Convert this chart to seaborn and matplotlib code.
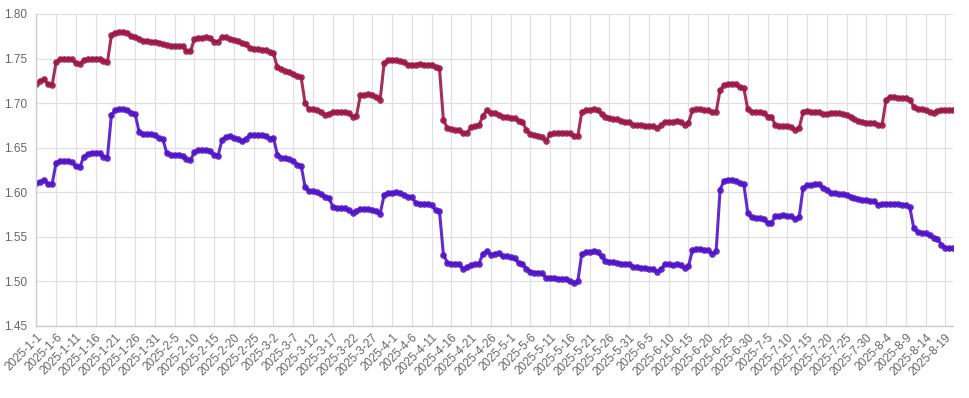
import matplotlib
matplotlib.use('Agg')
import matplotlib.pyplot as plt
import seaborn as sns
import pandas as pd

# daily values, 2025-1-1 .. 2025-8-21
series_a = [
    1.722, 1.725, 1.727, 1.721, 1.720, 1.746, 1.749, 1.750, 1.750, 1.749,
    1.745, 1.744, 1.748, 1.749, 1.750, 1.750, 1.750, 1.747, 1.746, 1.776,
    1.779, 1.780, 1.780, 1.779, 1.775, 1.774, 1.772, 1.770, 1.770, 1.769,
    1.769, 1.768, 1.766, 1.765, 1.764, 1.764, 1.764, 1.764, 1.758, 1.758,
    1.772, 1.773, 1.773, 1.774, 1.773, 1.769, 1.769, 1.774, 1.774, 1.772,
    1.771, 1.770, 1.767, 1.766, 1.762, 1.761, 1.761, 1.760, 1.760, 1.757,
    1.756, 1.740, 1.738, 1.736, 1.735, 1.733, 1.730, 1.729, 1.700, 1.693,
    1.693, 1.692, 1.690, 1.687, 1.688, 1.690, 1.690, 1.690, 1.690, 1.689,
    1.685, 1.686, 1.709, 1.709, 1.710, 1.709, 1.707, 1.704, 1.745, 1.748,
    1.748, 1.748, 1.747, 1.746, 1.743, 1.743, 1.743, 1.744, 1.743, 1.743,
    1.743, 1.740, 1.739, 1.681, 1.672, 1.671, 1.670, 1.670, 1.666, 1.667,
    1.673, 1.674, 1.675, 1.686, 1.692, 1.689, 1.689, 1.687, 1.685, 1.684,
    1.683, 1.683, 1.680, 1.679, 1.670, 1.665, 1.664, 1.663, 1.662, 1.658,
    1.665, 1.666, 1.666, 1.667, 1.666, 1.666, 1.663, 1.663, 1.690, 1.692,
    1.692, 1.693, 1.692, 1.688, 1.685, 1.683, 1.682, 1.682, 1.680, 1.679,
    1.679, 1.676, 1.675, 1.675, 1.674, 1.674, 1.674, 1.672, 1.675, 1.679,
    1.679, 1.679, 1.680, 1.679, 1.676, 1.678, 1.692, 1.693, 1.693, 1.692,
    1.692, 1.690, 1.690, 1.715, 1.720, 1.721, 1.722, 1.721, 1.718, 1.717,
    1.693, 1.690, 1.690, 1.690, 1.689, 1.685, 1.685, 1.675, 1.674, 1.674,
    1.674, 1.673, 1.670, 1.672, 1.690, 1.691, 1.690, 1.690, 1.690, 1.688,
    1.688, 1.689, 1.689, 1.689, 1.688, 1.687, 1.685, 1.682, 1.680, 1.679,
    1.678, 1.678, 1.678, 1.675, 1.676, 1.704, 1.707, 1.707, 1.706, 1.706,
    1.706, 1.704, 1.696, 1.693, 1.693, 1.692, 1.690, 1.689, 1.691, 1.692,
    1.692, 1.692, 1.692,
]

series_b = [
    1.610, 1.612, 1.614, 1.609, 1.609, 1.633, 1.635, 1.635, 1.635, 1.634,
    1.629, 1.628, 1.640, 1.643, 1.644, 1.644, 1.644, 1.640, 1.639, 1.687,
    1.692, 1.693, 1.693, 1.692, 1.689, 1.688, 1.668, 1.665, 1.665, 1.665,
    1.664, 1.661, 1.660, 1.644, 1.642, 1.642, 1.642, 1.641, 1.637, 1.636,
    1.645, 1.647, 1.647, 1.647, 1.646, 1.642, 1.641, 1.659, 1.662, 1.663,
    1.661, 1.660, 1.657, 1.660, 1.664, 1.664, 1.664, 1.664, 1.663, 1.660,
    1.661, 1.642, 1.639, 1.638, 1.637, 1.635, 1.631, 1.630, 1.606, 1.601,
    1.601, 1.600, 1.598, 1.595, 1.594, 1.584, 1.582, 1.582, 1.582, 1.580,
    1.577, 1.579, 1.581, 1.581, 1.581, 1.580, 1.579, 1.576, 1.597, 1.599,
    1.599, 1.600, 1.599, 1.597, 1.595, 1.595, 1.588, 1.587, 1.587, 1.587,
    1.586, 1.580, 1.579, 1.530, 1.521, 1.520, 1.520, 1.519, 1.514, 1.516,
    1.518, 1.519, 1.520, 1.531, 1.534, 1.530, 1.531, 1.532, 1.528, 1.528,
    1.527, 1.526, 1.521, 1.520, 1.514, 1.511, 1.510, 1.510, 1.509, 1.504,
    1.504, 1.504, 1.503, 1.503, 1.503, 1.500, 1.498, 1.500, 1.531, 1.533,
    1.533, 1.534, 1.533, 1.528, 1.523, 1.522, 1.522, 1.521, 1.520, 1.520,
    1.519, 1.516, 1.516, 1.515, 1.515, 1.514, 1.514, 1.511, 1.514, 1.519,
    1.519, 1.518, 1.519, 1.518, 1.515, 1.517, 1.535, 1.536, 1.536, 1.535,
    1.535, 1.531, 1.534, 1.603, 1.613, 1.614, 1.614, 1.613, 1.610, 1.609,
    1.577, 1.572, 1.571, 1.571, 1.570, 1.566, 1.566, 1.573, 1.573, 1.574,
    1.573, 1.573, 1.570, 1.572, 1.605, 1.608, 1.608, 1.609, 1.609, 1.605,
    1.603, 1.599, 1.599, 1.598, 1.598, 1.597, 1.595, 1.594, 1.592, 1.591,
    1.591, 1.590, 1.590, 1.586, 1.587, 1.587, 1.587, 1.587, 1.587, 1.586,
    1.586, 1.583, 1.560, 1.555, 1.554, 1.554, 1.552, 1.549, 1.548, 1.541,
    1.538, 1.537, 1.537,
]

dates = pd.date_range("2025-01-01", periods=len(series_a), freq="D")
date_labels = [f"{d.year}-{d.month}-{d.day}" for d in dates]
y_ticks = [1.45, 1.50, 1.55, 1.60, 1.65, 1.70, 1.75, 1.80]

RED = "#9c1848"
BLUE = "#5214c8"

sns.set_theme(style="white")
plt.rcParams['font.family'] = ['Liberation Sans', 'DejaVu Sans']

df = pd.DataFrame({"idx": range(len(date_labels)), "a": series_a, "b": series_b})

fig = plt.figure(figsize=(9.7, 3.98), dpi=100)
ax = fig.add_axes([36.3 / 970, 1 - 326 / 398, (953.3 - 36.3) / 970, 312 / 398])

for col, color in (("a", RED), ("b", BLUE)):
    sns.lineplot(data=df, x="idx", y=col, ax=ax, color=color, linewidth=2.2,
                 marker="o", markersize=4.8, markeredgewidth=0, alpha=0.9)

ax.set_xlim(0, len(date_labels) - 1)
ax.set_ylim(1.45, 1.80)
ax.set_yticks(y_ticks)
ax.set_yticklabels([f"{v:.2f}" for v in y_ticks])
tick_pos = list(range(0, len(date_labels), 5))
ax.set_xticks(tick_pos)
ax.set_xticklabels([date_labels[i] for i in tick_pos], rotation=45,
                   ha="right", rotation_mode="anchor")
ax.set_xlabel("")
ax.set_ylabel("")

ax.grid(True, color="#e0e0e0", linewidth=0.9)
ax.set_axisbelow(True)
for side in ("top", "right"):
    ax.spines[side].set_visible(False)
for side in ("left", "bottom"):
    ax.spines[side].set_color("#cccccc")
    ax.spines[side].set_linewidth(1)
ax.tick_params(axis="both", colors="#666666", labelsize=8.5, length=0)
ax.tick_params(axis="y", pad=6.5)
ax.tick_params(axis="x", pad=4)

fig.savefig("out.png", dpi=100)
